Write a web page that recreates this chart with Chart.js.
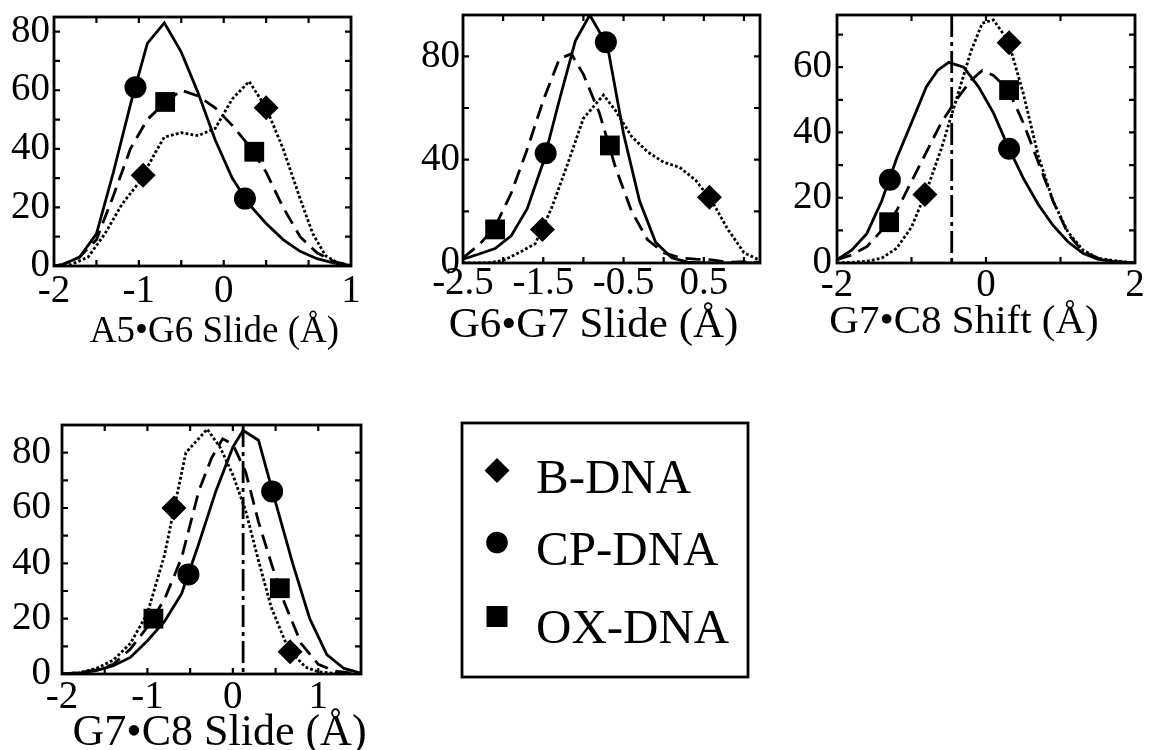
<!DOCTYPE html>
<html>
<head>
<meta charset="utf-8">
<script src="https://cdn.jsdelivr.net/npm/chart.js@4.4.0/dist/chart.umd.min.js"></script>
<style>
  html, body { margin: 0; padding: 0; background: #fff; }
  body { width: 1149px; height: 750px; position: relative; overflow: hidden; }
  .panel { position: absolute; }
  .panel canvas { display: block; }
</style>
</head>
<body>
<script>
// legend order
const seriesKeys = ['B', 'CP', 'OX'];
const seriesNames = ['B-DNA', 'CP-DNA', 'OX-DNA'];

// ---- A5•G6 Slide ----
const slideA5G6_B = [[-2,0],[-1.8,0.5],[-1.6,3],[-1.4,11],[-1.2,21],[-1,28.5],[-0.8,39],[-0.7,44],[-0.5,45.5],[-0.3,44.5],[-0.1,47],[0.1,57],[0.3,63],[0.5,54],[0.7,40],[0.9,23],[1.05,11],[1.2,3.5],[1.35,1],[1.5,0]];
const slideA5G6_CP = [[-2,0],[-1.9,0.5],[-1.7,3],[-1.5,11],[-1.3,32],[-1.1,55],[-0.9,76],[-0.7,83],[-0.5,73],[-0.3,59],[-0.1,43],[0.1,30],[0.3,21],[0.5,14.5],[0.7,9],[0.9,5],[1.1,2.5],[1.3,1],[1.5,0.2]];
const slideA5G6_OX = [[-2,0],[-1.9,0.5],[-1.7,3],[-1.5,9],[-1.3,24],[-1.1,40],[-0.9,50],[-0.7,55.5],[-0.5,60],[-0.3,58],[-0.1,54],[0.1,48],[0.3,41],[0.5,32],[0.7,20],[0.9,10],[1.1,4.5],[1.3,1.5],[1.5,0.2]];
const marksA5G6_B = [[-0.95,31],[0.5,54]];
const marksA5G6_CP = [[-1.04,61],[0.25,23]];
const marksA5G6_OX = [[-0.69,56],[0.36,39]];
const xLabelsA5G6 = [[-2,'-2'],[-1,'-1'],[0,'0'],[1.5,'1']];
const yLabelsA5G6 = [0, 20, 40, 60, 80];

// ---- G6•G7 Slide ----
const slideG6G7_B = [[-2.5,0],[-2.2,0],[-2,1],[-1.8,4],[-1.6,7.5],[-1.4,21],[-1.2,38],[-1,56],[-0.75,65],[-0.6,59],[-0.4,49],[-0.2,43],[0,39],[0.2,37],[0.4,32],[0.6,24],[0.8,13],[1,4],[1.2,1]];
const slideG6G7_CP = [[-2.5,1.5],[-2.3,3.5],[-2.1,5.6],[-1.9,10.5],[-1.7,21],[-1.5,39],[-1.3,63],[-1.1,86],[-0.92,96],[-0.7,84],[-0.5,50],[-0.3,24],[-0.1,8],[0.1,2],[0.3,0.3],[0.5,0],[1.2,0]];
const slideG6G7_OX = [[-2.5,2],[-2.3,7],[-2.1,14],[-1.9,27],[-1.7,44],[-1.5,63],[-1.3,79],[-1.15,81],[-1,73],[-0.8,58],[-0.6,37],[-0.4,20],[-0.2,9],[0,4],[0.2,2],[0.4,1.5],[0.6,1.2],[0.8,0.3],[1,0.5],[1.2,0.3]];
const marksG6G7_B = [[-1.51,13],[0.57,25.5]];
const marksG6G7_CP = [[-1.47,42.5],[-0.72,85.5]];
const marksG6G7_OX = [[-2.1,13],[-0.67,45.5]];
const xLabelsG6G7 = [[-2.5,'-2.5'],[-1.5,'-1.5'],[-0.5,'-0.5'],[0.5,'0.5']];
const yLabelsG6G7 = [0, 40, 80];

// ---- G7•C8 Shift ----
const shiftG7C8_B = [[-2,0],[-1.6,0.5],[-1.4,1.5],[-1.2,4.5],[-1,11],[-0.8,22],[-0.6,35],[-0.4,50],[-0.2,65],[-0.05,73.5],[0.1,74.5],[0.3,68],[0.5,52],[0.7,33],[0.9,19],[1.1,9.5],[1.3,4],[1.5,1.5],[1.7,0.8],[2,0]];
const shiftG7C8_CP = [[-2,1],[-1.8,4],[-1.6,9],[-1.4,19],[-1.2,32],[-1,43],[-0.8,54],[-0.65,59],[-0.5,61.5],[-0.3,60],[-0.1,54],[0.1,46],[0.3,35.5],[0.5,26],[0.7,18],[0.9,11.5],[1.1,6.5],[1.3,3],[1.5,1.2],[1.7,0.4],[2,0]];
const shiftG7C8_OX = [[-2,1],[-1.8,2.5],[-1.6,5],[-1.4,10],[-1.2,16],[-1,25],[-0.8,34],[-0.6,43],[-0.4,50],[-0.2,56],[-0.05,59],[0.1,57.5],[0.3,53],[0.5,43],[0.7,31],[0.9,19],[1.1,9],[1.3,3.5],[1.5,1.5],[1.7,0.5],[2,0]];
const marksShift_B = [[-0.82,21],[0.31,67.5]];
const marksShift_CP = [[-1.29,25.5],[0.31,35]];
const marksShift_OX = [[-1.3,12.5],[0.31,53]];
const xLabelsShift = [[-2,'-2'],[0,'0'],[2,'2']];
const yLabelsShift = [0, 20, 40, 60];
const refShift = -0.46;

// ---- G7•C8 Slide ----
const slideG7C8_B = [[-2,0],[-1.8,0.5],[-1.6,2],[-1.4,5],[-1.2,11],[-1,22],[-0.8,43],[-0.7,58],[-0.55,80],[-0.3,88.5],[-0.15,82],[0,72],[0.15,59],[0.3,41],[0.45,24],[0.65,9],[0.85,2.5],[1,0.8],[1.2,0.2],[1.5,0]];
const slideG7C8_CP = [[-2,0],[-1.8,0.3],[-1.6,1.2],[-1.4,3],[-1.2,6],[-1,12],[-0.8,19],[-0.6,29],[-0.4,47],[-0.2,66],[0,82],[0.12,88],[0.3,84.5],[0.5,62],[0.7,40],[0.9,20],[1.1,7],[1.3,2],[1.5,0.3]];
const slideG7C8_OX = [[-2,0],[-1.8,0.5],[-1.6,1.5],[-1.4,3.5],[-1.2,9],[-1,17],[-0.8,27],[-0.6,42],[-0.4,66],[-0.25,78],[-0.12,85],[0,83],[0.15,73],[0.3,55],[0.45,40],[0.6,26],[0.8,11],[1,3.5],[1.2,1],[1.5,0]];
const marksG7C8_B = [[-0.69,60],[0.67,8]];
const marksG7C8_CP = [[-0.52,36],[0.46,66]];
const marksG7C8_OX = [[-0.93,20],[0.55,31]];
const xLabelsG7C8 = [[-2,'-2'],[-1,'-1'],[0,'0'],[1,'1']];
const yLabelsG7C8 = [0, 20, 40, 60, 80];
const refG7C8 = 0.12;

const INK = '#000';
const FONT = "'Liberation Serif', 'Times New Roman', serif";
const TICK_SIZE = 39;
Chart.defaults.font.family = FONT;
Chart.defaults.color = INK;
Chart.defaults.animation = false;

const lineStyles = {
  B:  { borderWidth: 2.8, borderDash: [2.8, 2.2] },
  CP: { borderWidth: 2.8, borderDash: [] },
  OX: { borderWidth: 2.8, borderDash: [15, 8] }
};
const markStyles = {
  B:  { pointStyle: 'rectRot', pointRadius: 12.5 },
  CP: { pointStyle: 'circle', pointRadius: 11 },
  OX: { pointStyle: 'rect', pointRadius: 14 }
};

// canvas = [left, top, right, bottom], box = plot area, both in page pixels
const panels = [
  { canvas: [0, 3, 365, 358], box: [54, 15, 355, 266], x: [-2, 1.5], y: [0, 85],
    series: { B: slideA5G6_B, CP: slideA5G6_CP, OX: slideA5G6_OX },
    marks: { B: marksA5G6_B, CP: marksA5G6_CP, OX: marksA5G6_OX },
    xLabels: xLabelsA5G6, yLabels: yLabelsA5G6, xStep: 0.5, yStep: 10, xPad: 2, yPad: 4,
    caption: 'A5•G6 Slide (Å)', captionSize: 37, captionDx: 12, captionBase: 76 },
  { canvas: [401, 1, 774, 358], box: [463, 13, 764, 263], x: [-2.5, 1.2], y: [0, 96],
    series: { B: slideG6G7_B, CP: slideG6G7_CP, OX: slideG6G7_OX },
    marks: { B: marksG6G7_B, CP: marksG6G7_CP, OX: marksG6G7_OX },
    xLabels: xLabelsG6G7, yLabels: yLabelsG6G7, xStep: 0.5, yStep: 20, xPad: -3, yPad: 3,
    caption: 'G6•G7 Slide (Å)', captionSize: 43, captionDx: -18, captionBase: 74 },
  { canvas: [775, 1, 1149, 358], box: [837, 13, 1138, 263], x: [-2, 2], y: [0, 76],
    series: { B: shiftG7C8_B, CP: shiftG7C8_CP, OX: shiftG7C8_OX },
    marks: { B: marksShift_B, CP: marksShift_CP, OX: marksShift_OX },
    xLabels: xLabelsShift, yLabels: yLabelsShift, xStep: 1, yStep: 10, xPad: -1, yPad: 5,
    caption: 'G7•C8 Shift (Å)', captionSize: 41, captionDx: -22, captionBase: 70, refX: refShift },
  { canvas: [0, 411, 760, 750], box: [62, 423, 361, 674], x: [-2, 1.5], y: [0, 90],
    series: { B: slideG7C8_B, CP: slideG7C8_CP, OX: slideG7C8_OX },
    marks: { B: marksG7C8_B, CP: marksG7C8_CP, OX: marksG7C8_OX },
    xLabels: xLabelsG7C8, yLabels: yLabelsG7C8, xStep: 0.5, yStep: 10, xPad: 0, yPad: 11,
    caption: 'G7•C8 Slide (Å)', captionSize: 44, captionDx: 8, captionBase: 71, refX: refG7C8,
    legend: { box: [462, 423, 748, 677], markX: 497, markY: [470.5, 542.5, 616.5],
              textX: 536, baseY: [493, 565, 643], size: 49 } }
];

function stepsBetween(min, max, step) {
  const out = [];
  for (let n = Math.ceil(min / step - 1e-6); n * step <= max + 1e-6; n++) {
    const v = n * step;
    if (v > min + 1e-6 && v < max - 1e-6) out.push(v);
  }
  return out;
}

function drawMark(ctx, key, x, y) {
  ctx.beginPath();
  if (key === 'B') {
    const r = 12.5;
    ctx.moveTo(x, y - r); ctx.lineTo(x + r, y); ctx.lineTo(x, y + r); ctx.lineTo(x - r, y);
    ctx.closePath();
  } else if (key === 'CP') {
    ctx.arc(x, y, 10.8, 0, Math.PI * 2);
  } else {
    ctx.rect(x - 10.5, y - 10.5, 21, 21);
  }
  ctx.fill();
}

function makeFrame(p) {
  const [cl, ct] = p.canvas;
  return {
    id: 'frame',
    beforeDatasetsDraw(chart) {
      if (p.refX === undefined) return;
      const { ctx, chartArea: a } = chart;
      const px = chart.scales.x.getPixelForValue(p.refX);
      ctx.save();
      ctx.strokeStyle = INK;
      ctx.lineWidth = 2.8;
      ctx.setLineDash([22, 5, 4, 5]);
      ctx.beginPath();
      ctx.moveTo(px, a.top);
      ctx.lineTo(px, a.bottom);
      ctx.stroke();
      ctx.restore();
    },
    afterDatasetsDraw(chart) {
      const { ctx, chartArea: a, scales: { x, y } } = chart;
      const len = 6;
      ctx.save();
      ctx.strokeStyle = INK;
      ctx.fillStyle = INK;

      // inward ticks on all four sides
      ctx.lineWidth = 2.2;
      ctx.beginPath();
      stepsBetween(x.min, x.max, p.xStep).forEach(v => {
        const px = x.getPixelForValue(v);
        ctx.moveTo(px, a.top); ctx.lineTo(px, a.top + len);
        ctx.moveTo(px, a.bottom); ctx.lineTo(px, a.bottom - len);
      });
      stepsBetween(y.min, y.max, p.yStep).forEach(v => {
        const py = y.getPixelForValue(v);
        ctx.moveTo(a.left, py); ctx.lineTo(a.left + len, py);
        ctx.moveTo(a.right, py); ctx.lineTo(a.right - len, py);
      });
      ctx.stroke();

      ctx.lineWidth = 2.8;
      ctx.strokeRect(a.left, a.top, a.right - a.left, a.bottom - a.top);

      // axis caption
      ctx.font = p.captionSize + 'px ' + FONT;
      ctx.textAlign = 'center';
      ctx.textBaseline = 'alphabetic';
      ctx.fillText(p.caption, (a.left + a.right) / 2 + p.captionDx, a.bottom + p.captionBase);

      // legend box
      if (p.legend) {
        const lg = p.legend;
        const [bl, bt, br, bb] = lg.box;
        ctx.lineWidth = 2.8;
        ctx.strokeRect(bl - cl, bt - ct, br - bl, bb - bt);
        ctx.font = lg.size + 'px ' + FONT;
        ctx.textAlign = 'left';
        seriesKeys.forEach((k, i) => {
          drawMark(ctx, k, lg.markX - cl, lg.markY[i] - ct);
          ctx.fillText(seriesNames[i], lg.textX - cl, lg.baseY[i] - ct);
        });
      }
      ctx.restore();
    }
  };
}

function buildPanel(p) {
  const [cl, ct, cr, cb] = p.canvas;
  const [L, T, R, B] = p.box;
  const holder = document.createElement('div');
  holder.className = 'panel';
  holder.style.left = cl + 'px';
  holder.style.top = ct + 'px';
  const cv = document.createElement('canvas');
  cv.width = cr - cl;
  cv.height = cb - ct;
  cv.style.width = (cr - cl) + 'px';
  cv.style.height = (cb - ct) + 'px';
  holder.appendChild(cv);
  document.body.appendChild(holder);

  const datasets = [];
  seriesKeys.forEach(k => datasets.push({
    label: k, data: p.marks[k], showLine: false,
    backgroundColor: INK, borderColor: INK, borderWidth: 0,
    pointBorderWidth: 0, ...markStyles[k], order: 0
  }));
  seriesKeys.forEach(k => datasets.push({
    label: k, data: p.series[k], borderColor: INK, ...lineStyles[k],
    pointRadius: 0, tension: 0, fill: false, order: 1
  }));

  const noPad = s => { s.paddingLeft = 0; s.paddingRight = 0; s.paddingTop = 0; s.paddingBottom = 0; };
  const labelOf = v => {
    const hit = p.xLabels.find(([t]) => Math.abs(t - v) < 1e-9);
    return hit ? hit[1] : '';
  };

  new Chart(cv, {
    type: 'line',
    data: { datasets },
    options: {
      responsive: false,
      devicePixelRatio: 1,
      events: [],
      layout: { padding: { left: 0, top: T - ct, right: cr - R, bottom: 0 } },
      plugins: { legend: { display: false }, tooltip: { enabled: false } },
      scales: {
        x: {
          type: 'linear', min: p.x[0], max: p.x[1],
          grid: { display: false, drawTicks: false }, border: { display: false },
          ticks: { autoSkip: false, maxRotation: 0, padding: p.xPad, font: { size: TICK_SIZE }, callback: labelOf },
          afterBuildTicks: s => { s.ticks = p.xLabels.map(([v]) => ({ value: v })); },
          afterFit: s => { s.height = cb - B; noPad(s); }
        },
        y: {
          type: 'linear', min: p.y[0], max: p.y[1],
          grid: { display: false, drawTicks: false }, border: { display: false },
          ticks: { autoSkip: false, padding: p.yPad, font: { size: TICK_SIZE } },
          afterBuildTicks: s => { s.ticks = p.yLabels.map(v => ({ value: v })); },
          afterFit: s => { s.width = L - cl; noPad(s); }
        }
      }
    },
    plugins: [makeFrame(p)]
  });
}

panels.forEach(buildPanel);
</script>
</body>
</html>
